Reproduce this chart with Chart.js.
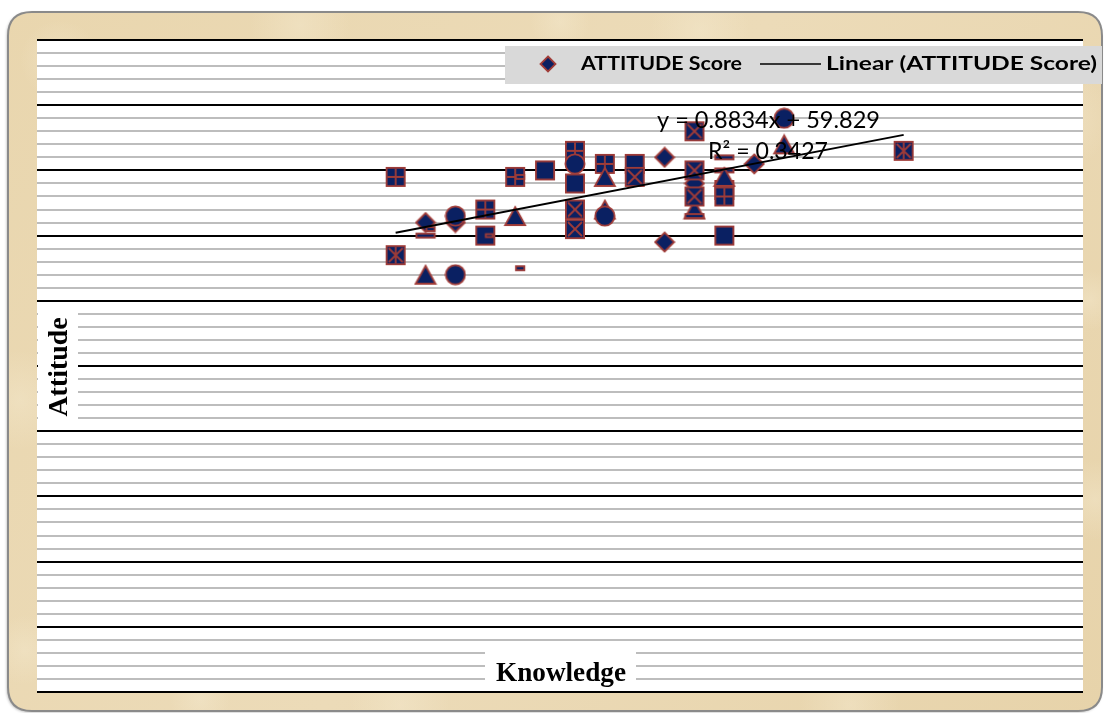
<!DOCTYPE html>
<html><head><meta charset="utf-8">
<script src="https://cdn.jsdelivr.net/npm/chart.js@4/dist/chart.umd.min.js"></script>
<style>html,body{margin:0;padding:0;background:#fff;}#wrap{width:1104px;height:713px;position:relative;}</style>
</head><body><div id="wrap"><canvas id="c" width="1104" height="713"></canvas></div>
<script>
// ---- data ----
const knowledge = [12,12, 13,13,13,13, 14,14,14, 15,15, 16,16,16,16, 17, 18,18,18,18,18, 19,19,19,19, 20,20, 21,21, 22,22,22,22,22,22, 23,23,23,23,23,23, 24, 25,25, 29];
const attitude  = [79,67, 72,71,70,64, 72,73,64, 74,70, 79,79,73,65, 80, 83,81,78,74,71, 81,79,74,73, 81,79, 82,69, 86,78,80,74,73,76, 82,77,76,80,79,70, 81, 88,84, 83];
const markerShape = ['sqPlus','sqStar', 'diamond','minus','dash','triangle', 'diamond','circle','circle', 'sqPlus','sqMinus', 'sqPlus','minus','triangle','minus', 'sq', 'sqPlus','circle','sq','sqX','sqX', 'sqPlus','triangle','triangle','circle', 'sq','sqX', 'diamond','diamond', 'sqX','diamond','sqX','triangle','dash','sqX', 'dash','sq','sqPlus','dash','triangle','sq', 'diamond', 'circle','triangle', 'sqStar'];
const trendSlope = 0.8834, trendIntercept = 59.829;
const trendX = [12, 29];
const yTicks = {min: 0, max: 100, minorStep: 2, majorStep: 10};
const xRange = {min: 0, max: 35};
const seriesName = 'ATTITUDE Score';
const trendName = 'Linear (ATTITUDE Score)';
const eqLabel = 'y = 0.8834x + 59.829';
const r2Label = 'R² = 0.3427';
const xTitle = 'Knowledge', yTitle = 'Attitude';

// ---- marker images ----
const NAVY = '#0a2062', RED = '#a03c38';
function mk(w, h, draw) {
  const c = document.createElement('canvas'); c.width = w; c.height = h;
  const g = c.getContext('2d'); g.fillStyle = NAVY; g.strokeStyle = RED; g.lineWidth = 1.8;
  draw(g, w, h); return c;
}
function sqBase(g){ g.fillRect(1,1,20,20); g.strokeRect(1.9,1.9,18.2,18.2); }
function xLines(g){ g.beginPath(); g.moveTo(4,4); g.lineTo(18,18); g.moveTo(18,4); g.lineTo(4,18); g.stroke(); }
const shapes = {
  sq: mk(22,22,g=>sqBase(g)),
  sqX: mk(22,22,g=>{sqBase(g); xLines(g);}),
  sqPlus: mk(22,22,g=>{sqBase(g); g.beginPath(); g.moveTo(11,3); g.lineTo(11,19); g.moveTo(3,11); g.lineTo(19,11); g.stroke();}),
  sqStar: mk(22,22,g=>{sqBase(g); xLines(g); g.beginPath(); g.moveTo(11,3); g.lineTo(11,19); g.stroke();}),
  sqMinus: mk(22,22,g=>{sqBase(g); g.strokeRect(11.5,9.5,7,3);}),
  diamond: mk(22,22,g=>{g.beginPath(); g.moveTo(11,1.5); g.lineTo(20.5,11); g.lineTo(11,20.5); g.lineTo(1.5,11); g.closePath(); g.fill(); g.stroke();}),
  triangle: mk(24,22,g=>{g.beginPath(); g.moveTo(12,2); g.lineTo(22,20); g.lineTo(2,20); g.closePath(); g.fill(); g.stroke();}),
  circle: mk(22,22,g=>{g.beginPath(); g.arc(11,11,9.6,0,Math.PI*2); g.fill(); g.stroke();}),
  dash: mk(22,8,g=>{g.fillRect(1,1.5,20,5); g.strokeRect(1.8,2,18.4,4);}),
  minus: mk(24,8,g=>{g.fillRect(12,1.5,10,5); g.strokeRect(12.8,2,8.4,4);})
};
const legendDiamond = mk(18,18,g=>{g.beginPath(); g.moveTo(9,1.5); g.lineTo(16.5,9); g.lineTo(9,16.5); g.lineTo(1.5,9); g.closePath(); g.fill(); g.stroke();});

const points = knowledge.map((x,i)=>({x, y: attitude[i]}));
const pointStyles = markerShape.map(s => shapes[s]);
const trendPts = trendX.map(x => ({x, y: trendSlope*x + trendIntercept}));

// draw text with given font, squeezed horizontally to the target width
function drawFit(g, text, x, y, font, width, align) {
  g.save(); g.font = font; g.textBaseline = 'middle'; g.textAlign = 'left';
  const w = g.measureText(text).width, sx = width / w;
  const x0 = align === 'center' ? x - width/2 : x;
  g.translate(x0, y); g.scale(sx, 1); g.fillText(text, 0, 0);
  g.restore();
}
// draw text scaled uniformly so it has the target width
function drawSized(g, text, x, y, weight, family, width) {
  g.save(); g.font = weight + ' 100px ' + family;
  const size = 100 * width / g.measureText(text).width;
  g.font = weight + ' ' + size.toFixed(2) + 'px ' + family;
  g.textBaseline = 'middle'; g.textAlign = 'center'; g.fillText(text, x, y);
  g.restore();
}

const decor = {
  id: 'decor',
  beforeDraw(chart) {
    const g = chart.ctx, a = chart.chartArea;
    g.save();
    g.fillStyle = '#fff'; g.fillRect(0,0,chart.width,chart.height);
    const L=8, T=12, R=1102, B=711, rad=24;
    g.beginPath();
    g.moveTo(L+rad,T); g.lineTo(R-rad,T); g.quadraticCurveTo(R,T,R,T+rad);
    g.lineTo(R,B-rad); g.quadraticCurveTo(R,B,R-rad,B); g.lineTo(L+rad,B);
    g.quadraticCurveTo(L,B,L,B-rad); g.lineTo(L,T+rad); g.quadraticCurveTo(L,T,L+rad,T); g.closePath();
    g.save(); g.shadowColor='rgba(0,0,0,0.35)'; g.shadowBlur=3; g.shadowOffsetX=-1; g.shadowOffsetY=1;
    const lg = g.createLinearGradient(0,0,1104,713);
    lg.addColorStop(0,'#e9d6ae'); lg.addColorStop(0.5,'#ecdbb8'); lg.addColorStop(1,'#e7d3aa');
    g.fillStyle = lg; g.fill(); g.restore();
    g.save(); g.clip();
    const blobs = [[60,60,40],[300,25,50],[700,30,50],[1060,120,50],[20,400,50],[1095,500,40],[400,705,50],[850,705,50],[25,650,35],[200,700,30],[1090,300,30],[560,22,30]];
    blobs.forEach(([x,y,r])=>{const rg=g.createRadialGradient(x,y,0,x,y,r); rg.addColorStop(0,'rgba(244,233,206,0.45)'); rg.addColorStop(1,'rgba(244,233,206,0)'); g.fillStyle=rg; g.fillRect(x-r,y-r,2*r,2*r);});
    g.restore();
    g.lineWidth = 2; g.strokeStyle = '#8a8a8a'; g.stroke();
    g.fillStyle = '#fff'; g.fillRect(a.left, a.top, a.right-a.left, a.bottom-a.top);
    g.restore();
  },
  afterDatasetsDraw(chart) {
    const g = chart.ctx;
    g.save();
    g.fillStyle = '#000';
    drawFit(g, eqLabel, 657, 121, 'normal 23px Lato', 223);
    drawFit(g, r2Label, 708, 152, 'normal 23px Lato', 120);
    // legend
    g.fillStyle = '#d9d9d9'; g.fillRect(505, 46, 597, 38);
    g.drawImage(legendDiamond, 548-9, 64-9);
    g.fillStyle = '#000';
    drawFit(g, seriesName, 581, 64, 'bold 19px Lato', 161);
    g.strokeStyle = '#000'; g.lineWidth = 1.5; g.beginPath(); g.moveTo(760, 64); g.lineTo(821, 64); g.stroke();
    drawFit(g, trendName, 826, 64, 'bold 19px Lato', 271);
    // x title
    g.fillStyle = '#fff'; g.fillRect(485, 652, 151, 39);
    g.fillStyle = '#000';
    drawSized(g, xTitle, 561, 674, 'bold', '"Liberation Serif"', 130);
    // y title
    g.fillStyle = '#fff'; g.fillRect(38, 303, 40, 127);
    g.save(); g.translate(60, 367); g.rotate(-Math.PI/2);
    g.fillStyle = '#000';
    drawSized(g, yTitle, 0, 0, 'bold', '"Liberation Serif"', 99);
    g.restore();
    g.restore();
  }
};

new Chart(document.getElementById('c'), {
  type: 'scatter',
  data: {
    datasets: [
      { type: 'line', label: trendName, data: trendPts, borderColor: '#000', borderWidth: 2, pointRadius: 0, fill: false, order: 0 },
      { label: seriesName, data: points, pointStyle: pointStyles, backgroundColor: NAVY, borderColor: RED, order: 1 }
    ]
  },
  options: {
    responsive: false, animation: false, devicePixelRatio: 1,
    layout: { padding: { left: 37, right: 21, top: 40, bottom: 21 } },
    plugins: { legend: { display: false }, tooltip: { enabled: false } },
    scales: {
      x: { type: 'linear', min: xRange.min, max: xRange.max, display: false },
      y: { type: 'linear', min: yTicks.min, max: yTicks.max,
           ticks: { display: false, stepSize: yTicks.minorStep },
           border: { display: false },
           grid: { drawTicks: false, lineWidth: 2,
                   color: c => (c.tick && c.tick.value % yTicks.majorStep === 0) ? '#000' : '#bdbdbd' },
           afterFit: s => { s.width = 0; } }
    }
  },
  plugins: [decor]
});
</script></body></html>
